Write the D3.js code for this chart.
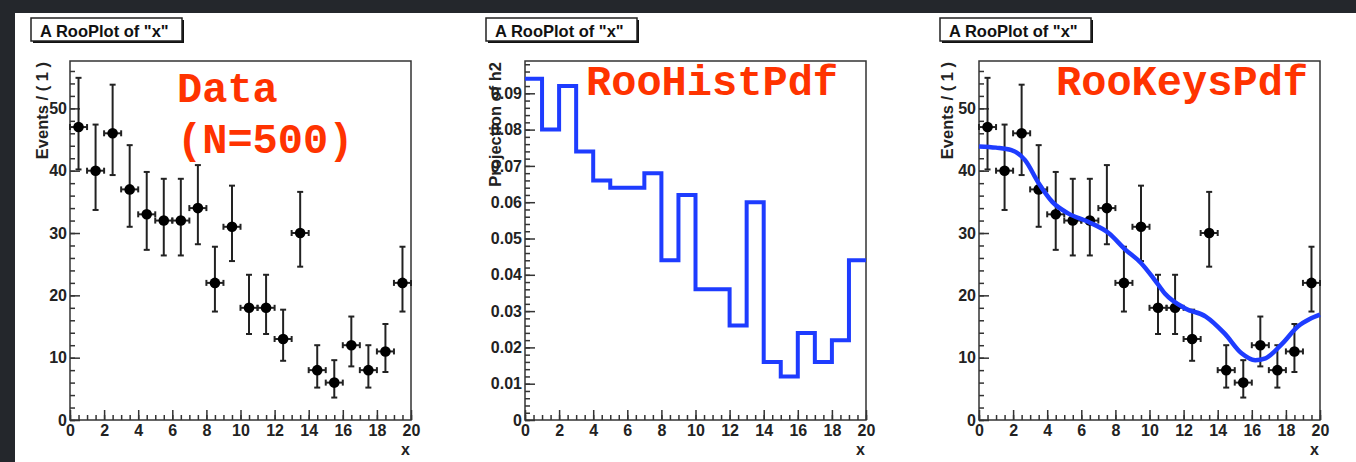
<!DOCTYPE html>
<html>
<head>
<meta charset="utf-8">
<script src="https://cdn.jsdelivr.net/npm/d3@7"></script>
<style>
  html, body { margin: 0; padding: 0; background: #24272c; }
  svg { display: block; }
  .tick text { font-family: "Liberation Sans", Arial, sans-serif; font-weight: bold; font-size: 16px; fill: #222; }
  .tick line { stroke: #333; stroke-width: 1.5; }
</style>
</head>
<body>
<script>
// bin centres, counts and poisson errors of the toy data (N=500)
var binCenters = [0.5, 1.5, 2.5, 3.5, 4.5, 5.5, 6.5, 7.5, 8.5, 9.5, 10.5, 11.5, 12.5, 13.5, 14.5, 15.5, 16.5, 17.5, 18.5, 19.5];
var counts = [47, 40, 46, 37, 33, 32, 32, 34, 22, 31, 18, 18, 13, 30, 8, 6, 12, 8, 11, 22];
var errLo = [6.8, 6.3, 6.7, 6.0, 5.7, 5.6, 5.6, 5.8, 4.6, 5.5, 4.2, 4.2, 3.5, 5.4, 2.8, 2.4, 3.4, 2.8, 3.3, 4.6];
var errHi = [7.9, 7.4, 7.8, 7.1, 6.8, 6.7, 6.7, 6.9, 5.8, 6.6, 5.3, 5.3, 4.7, 6.6, 4.0, 3.6, 4.6, 4.0, 4.4, 5.8];

// RooHistPdf projection, one value per bin
var binEdges = [0, 1, 2, 3, 4, 5, 6, 7, 8, 9, 10, 11, 12, 13, 14, 15, 16, 17, 18, 19, 20];
var histPdf = [0.094, 0.080, 0.092, 0.074, 0.066, 0.064, 0.064, 0.068, 0.044, 0.062, 0.036, 0.036, 0.026, 0.060, 0.016, 0.012, 0.024, 0.016, 0.022, 0.044];

// RooKeysPdf curve
var keysX = [0, 1, 1.9, 2.7, 3.5, 4.3, 5.2, 6.4, 7.6, 8.6, 9.5, 10.3, 10.9, 12.1, 13.3, 14.4, 15.4, 16.2, 16.8, 17.8, 18.7, 19.4, 20];
var keysY = [43.9, 43.7, 43.3, 41.7, 38.0, 35.0, 33.2, 31.8, 30.0, 27.3, 25.2, 22.5, 20.3, 17.9, 16.6, 13.9, 10.7, 9.6, 9.9, 12.3, 15.0, 16.2, 16.9];

// tick values
var xMajor = [0, 2, 4, 6, 8, 10, 12, 14, 16, 18, 20];
var xMinor = d3.range(0, 20.01, 0.5);
var evMajor = [0, 10, 20, 30, 40, 50];
var evMinor = d3.range(0, 57, 2);
var prMajor = [0, 0.01, 0.02, 0.03, 0.04, 0.05, 0.06, 0.07, 0.08, 0.09];
var prMinor = d3.range(0, 0.0985, 0.002);

var width = 1356, height = 462,
    frameW = 341, frameTop = 61, frameBottom = 420,
    panelLeft = [70, 525, 979],
    blue = "#1e3cff", red = "#ff3300", ink = "#222";

var svg = d3.select("body").append("svg")
    .attr("width", width)
    .attr("height", height);

// white canvas over the dark background
svg.append("rect")
    .attr("x", 15).attr("y", 13)
    .attr("width", width - 15).attr("height", height - 13)
    .attr("fill", "#fff");

function panel(left, yDomain, yMajor, yMinor, yFmt, yTitle, yTitleX) {
    var x = d3.scaleLinear().domain([0, 20]).range([left, left + frameW]);
    var y = d3.scaleLinear().domain(yDomain).range([frameBottom, frameTop]);
    var g = svg.append("g");

    // title box with shadow
    var bx = left - 39;
    g.append("rect").attr("x", bx + 2).attr("y", 20).attr("width", 151).attr("height", 23).attr("fill", "#111");
    g.append("rect").attr("x", bx).attr("y", 18).attr("width", 151).attr("height", 23)
        .attr("fill", "#fff").attr("stroke", ink).attr("stroke-width", 1.5);
    g.append("text").attr("x", bx + 9).attr("y", 36.5)
        .style("font-family", "Liberation Sans, Arial, sans-serif")
        .style("font-weight", "bold").style("font-size", "16.5px").attr("fill", "#111")
        .text('A RooPlot of "x"');

    // frame
    g.append("rect")
        .attr("x", left).attr("y", frameTop)
        .attr("width", frameW).attr("height", frameBottom - frameTop)
        .attr("fill", "none").attr("stroke", "#333").attr("stroke-width", 1.5);

    // minor ticks
    g.append("g").attr("transform", `translate(0,${frameBottom})`)
        .call(d3.axisBottom(x).tickValues(xMinor).tickSize(-5).tickFormat(""))
        .call(a => a.select(".domain").remove());
    g.append("g").attr("transform", `translate(${left},0)`)
        .call(d3.axisLeft(y).tickValues(yMinor).tickSize(-5).tickFormat(""))
        .call(a => a.select(".domain").remove());

    // major ticks + labels
    g.append("g").attr("transform", `translate(0,${frameBottom})`)
        .call(d3.axisBottom(x).tickValues(xMajor).tickSize(-10).tickPadding(5).tickFormat(d3.format("d")))
        .call(a => a.select(".domain").remove());
    g.append("g").attr("transform", `translate(${left},0)`)
        .call(d3.axisLeft(y).tickValues(yMajor).tickSize(-10).tickPadding(3).tickFormat(yFmt))
        .call(a => a.select(".domain").remove());

    // axis titles
    g.append("text")
        .attr("x", left + frameW - 1).attr("y", 455)
        .attr("text-anchor", "end")
        .style("font-family", "Liberation Sans, Arial, sans-serif")
        .style("font-weight", "bold").style("font-size", "16px").attr("fill", ink)
        .text("x");
    g.append("text")
        .attr("transform", `translate(${yTitleX},${frameTop + 1}) rotate(-90)`)
        .attr("text-anchor", "end")
        .style("font-family", "Liberation Sans, Arial, sans-serif")
        .style("font-weight", "bold").style("font-size", "16.5px").attr("fill", ink)
        .text(yTitle);

    return { g: g, x: x, y: y };
}

function drawData(p) {
    var pts = p.g.append("g").attr("stroke", ink).attr("stroke-width", 2);
    counts.forEach(function (c, i) {
        var cx = p.x(binCenters[i]), cy = p.y(c);
        var y0 = p.y(c - errLo[i]), y1 = p.y(c + errHi[i]);
        var x0 = p.x(binCenters[i] - 0.5), x1 = p.x(binCenters[i] + 0.5);
        pts.append("line").attr("x1", cx).attr("x2", cx).attr("y1", y0).attr("y2", y1);
        pts.append("line").attr("x1", cx - 3).attr("x2", cx + 3).attr("y1", y0).attr("y2", y0);
        pts.append("line").attr("x1", cx - 3).attr("x2", cx + 3).attr("y1", y1).attr("y2", y1);
        pts.append("line").attr("x1", x0).attr("x2", x1).attr("y1", cy).attr("y2", cy);
        pts.append("line").attr("x1", x0).attr("x2", x0).attr("y1", cy - 3).attr("y2", cy + 3);
        pts.append("line").attr("x1", x1).attr("x2", x1).attr("y1", cy - 3).attr("y2", cy + 3);
    });
    p.g.append("g").selectAll("circle")
        .data(counts)
        .enter().append("circle")
        .attr("cx", (d, i) => p.x(binCenters[i]))
        .attr("cy", d => p.y(d))
        .attr("r", 5.3)
        .attr("fill", "#000");
}

function label(lines, x, y0) {
    svg.append("text")
        .style("font-family", "Liberation Mono, Courier New, monospace")
        .style("font-weight", "bold").style("font-size", "42px")
        .attr("fill", red)
        .selectAll("tspan").data(lines).enter().append("tspan")
        .attr("x", x).attr("y", (d, i) => y0 + i * 51)
        .text(d => d);
}

var evFmt = d3.format("d");
var prFmt = d => d === 0 ? "0" : d3.format(".2f")(d);

// Panel 1: data
var p1 = panel(panelLeft[0], [0, 57.6], evMajor, evMinor, evFmt, "Events / ( 1 )", 48);
drawData(p1);
label(["Data", "(N=500)"], 177, 102);

// Panel 2: RooHistPdf
var p2 = panel(panelLeft[1], [0, 0.0989], prMajor, prMinor, prFmt, "Projection of h2", 501);
var stepLine = d3.line()
    .x(d => p2.x(d[0]))
    .y(d => p2.y(d[1]))
    .curve(d3.curveStepAfter);
p2.g.append("path")
    .datum(binEdges.map((e, i) => [e, histPdf[Math.min(i, histPdf.length - 1)]]))
    .attr("d", stepLine)
    .attr("fill", "none").attr("stroke", blue).attr("stroke-width", 4);
label(["RooHistPdf"], 586, 95);

// Panel 3: RooKeysPdf over data
var p3 = panel(panelLeft[2], [0, 57.6], evMajor, evMinor, evFmt, "Events / ( 1 )", 953);
drawData(p3);
p3.g.append("path")
    .datum(keysX.map((k, i) => [k, keysY[i]]))
    .attr("d", d3.line().x(d => p3.x(d[0])).y(d => p3.y(d[1])).curve(d3.curveMonotoneX))
    .attr("fill", "none").attr("stroke", blue).attr("stroke-width", 4.5);
label(["RooKeysPdf"], 1056, 95);
</script>
</body>
</html>
